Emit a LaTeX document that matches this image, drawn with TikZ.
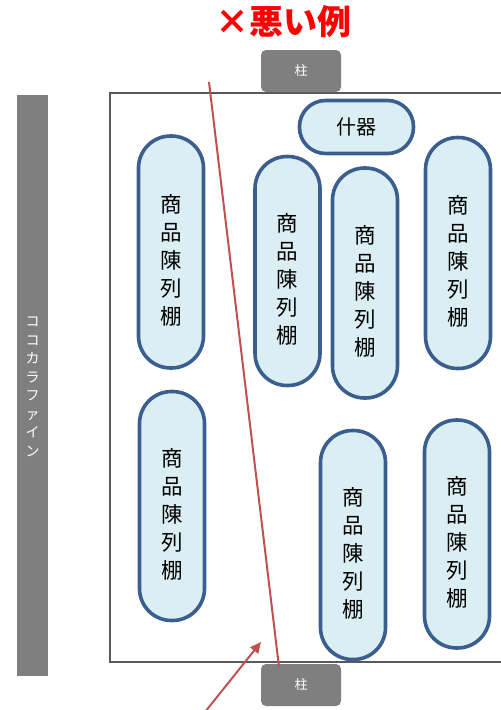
\documentclass[tikz,border=0pt]{standalone}
\usepackage{fontspec}
\newfontfamily\cjk{Noto Sans CJK JP}
\usetikzlibrary{arrows.meta}
\definecolor{shelffill}{HTML}{DAEEF3}
\definecolor{shelfdraw}{HTML}{3A5F8E}
\definecolor{pillar}{HTML}{7F7F7F}
\definecolor{redline}{HTML}{C0504D}
\tikzset{
  shelf/.style={draw=shelfdraw, line width=3.6pt, fill=shelffill, rounded corners=32pt,
    minimum width=65pt, inner sep=0pt, font=\cjk\fontsize{21.5}{28}\selectfont, align=center, text=black},
  pillarbox/.style={fill=pillar, rounded corners=5pt, minimum width=80pt, minimum height=42pt,
    inner sep=0pt, font=\cjk\fontsize{13}{14}\selectfont, text=white},
  redpen/.style={draw=redline, line width=2pt}
}
\newcommand{\shelftext}{\raisebox{-11pt}[\height][\depth]{\begin{tabular}{@{}c@{}}商\\品\\陳\\列\\棚\end{tabular}}}
\begin{document}
\begin{tikzpicture}[x=1pt,y=-1pt]
\useasboundingbox (0,0) rectangle (501,710);
% room
\node[draw=black!65, line width=1.2pt, minimum width=392pt, minimum height=569pt, inner sep=0pt] (room) at (306,377.5) {};
% left bar
\node[fill=pillar, minimum width=31pt, minimum height=581pt, inner sep=0pt] (bar) at (32.5,385.5) {};
\node[font=\cjk\fontsize{14}{18.5}\selectfont, text=white, align=center] (bartext) at (32.5,387) {コ\\コ\\カ\\ラ\\フ\\ァ\\イ\\ン};
% pillars
\node[pillarbox] (ptop) at (301,71) {柱};
\node[pillarbox] (pbot) at (301,685) {柱};
% title
\node[font=\cjk\bfseries\fontsize{34}{36}\selectfont, text=red] (title) at (283,22) {×悪い例};
% fixture
\node[draw=shelfdraw, line width=3.6pt, fill=shelffill, rounded corners=26pt, minimum width=114pt, minimum height=53pt, inner sep=0pt, font=\cjk\fontsize{20}{24}\selectfont] (fix) at (356.5,127) {什器};
% shelves
\node[shelf, minimum height=232pt] (s1) at (171,252) {\shelftext};
\node[shelf, minimum height=229pt] (s2) at (287.5,271) {\shelftext};
\node[shelf, minimum height=230pt] (s3) at (365,283) {\shelftext};
\node[shelf, minimum height=231pt] (s4) at (458,253) {\shelftext};
\node[shelf, minimum height=229pt] (s5) at (172,506) {\shelftext};
\node[shelf, minimum height=229pt] (s6) at (353,545) {\shelftext};
\node[shelf, minimum height=228pt] (s7) at (457,534) {\shelftext};
% red line and arrow
\coordinate (la) at (209,82);
\coordinate (lb) at (279,667);
\draw[redpen] (la) -- (lb);
\coordinate (aa) at (205,712);
\coordinate (ab) at (261,642);
\draw[redpen, -{Triangle[length=11pt,width=10pt]}] (aa) -- (ab);
\end{tikzpicture}
\end{document}
